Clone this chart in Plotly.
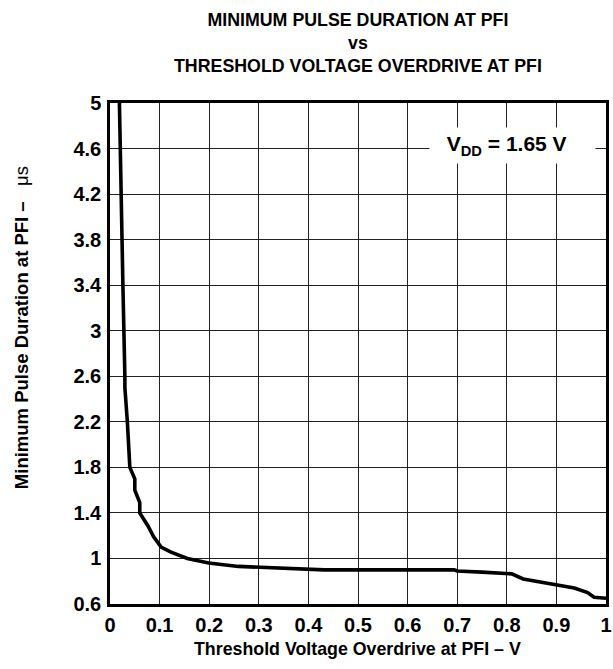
import plotly.graph_objects as go

# ── Data ──
overdrive_v = [0.019, 0.022, 0.026, 0.030, 0.030, 0.035, 0.040, 0.050, 0.050, 0.060, 0.060,
               0.076, 0.088, 0.103, 0.123, 0.156, 0.199, 0.259, 0.312, 0.378,
               0.432, 0.694, 0.700, 0.750, 0.810, 0.833, 0.896, 0.936, 0.963, 0.976, 1.000]
pulse_us = [5.00, 4.20, 3.40, 2.60, 2.50, 2.20, 1.80, 1.70, 1.60, 1.49, 1.40,
            1.29, 1.19, 1.10, 1.056, 1.00, 0.96, 0.93, 0.92, 0.91,
            0.90, 0.90, 0.89, 0.88, 0.865, 0.82, 0.77, 0.74, 0.70, 0.66, 0.65]

x_ticks = [0, 0.1, 0.2, 0.3, 0.4, 0.5, 0.6, 0.7, 0.8, 0.9, 1.0]
x_tick_text = ["0", "0.1", "0.2", "0.3", "0.4", "0.5", "0.6", "0.7", "0.8", "0.9", "1"]
y_ticks = [0.6, 1.0, 1.4, 1.8, 2.2, 2.6, 3.0, 3.4, 3.8, 4.2, 4.6, 5.0]
y_tick_text = ["0.6", "1", "1.4", "1.8", "2.2", "2.6", "3", "3.4", "3.8", "4.2", "4.6", "5"]

FONT = "Liberation Sans, Arial, sans-serif"
INK = "#000000"

fig = go.Figure(go.Scatter(
    x=overdrive_v, y=pulse_us, mode="lines",
    line=dict(color=INK, width=3.6),
    hoverinfo="skip",
))

axis_common = dict(
    showgrid=True, gridcolor="#222222", gridwidth=1,
    showline=True, linecolor=INK, linewidth=2.5, mirror=True,
    zeroline=False, ticks="", ticklabeloverflow="allow",
    tickfont=dict(family=FONT, size=20, color=INK),
)

fig.update_layout(
    width=613, height=669,
    margin=dict(l=110, r=1, t=103, b=65),
    paper_bgcolor="white", plot_bgcolor="white",
    showlegend=False,
    font=dict(family=FONT, color=INK),
    xaxis=dict(range=[0, 1], tickvals=x_ticks, ticklabelstandoff=1,
               ticktext=[f"<b>{t}</b>" for t in x_tick_text], **axis_common),
    yaxis=dict(range=[0.6, 5], tickvals=y_ticks, ticklabelstandoff=2,
               ticktext=[f"<b>{t}</b>" for t in y_tick_text], **axis_common),
)

# three-line title
fig.add_annotation(x=0.5, y=1.1198, xref="paper", yref="paper",
                   text="<b>MINIMUM PULSE DURATION AT PFI<br>vs<br>"
                        "THRESHOLD VOLTAGE OVERDRIVE AT PFI</b>",
                   showarrow=False, xanchor="center", yanchor="middle",
                   align="center",
                   font=dict(family=FONT, size=17.8, color=INK))

# axis titles
fig.add_annotation(x=-0.177, y=0.551, xref="paper", yref="paper",
                   text="<b>Minimum Pulse Duration at PFI –  </b> μs",
                   textangle=-90, showarrow=False,
                   xanchor="center", yanchor="middle",
                   font=dict(family=FONT, size=18.5, color=INK))
fig.add_annotation(x=0.498, y=-0.090, xref="paper", yref="paper",
                   text="<b>Threshold Voltage Overdrive at PFI – V</b>",
                   showarrow=False, xanchor="center", yanchor="middle",
                   font=dict(family=FONT, size=17.8, color=INK))

# condition label (white box hides the grid behind it)
fig.add_annotation(x=0.812, y=4.63, xref="x", yref="y",
                   text="<b>V<sub>DD</sub> = 1.65 V</b>&nbsp;&nbsp;",
                   showarrow=False, bgcolor="white", borderpad=0,
                   width=165, height=35,
                   font=dict(family=FONT, size=21, color=INK))

fig.write_html("out.html", config={"displayModeBar": False},
               post_script="document.body.style.margin='0';")
